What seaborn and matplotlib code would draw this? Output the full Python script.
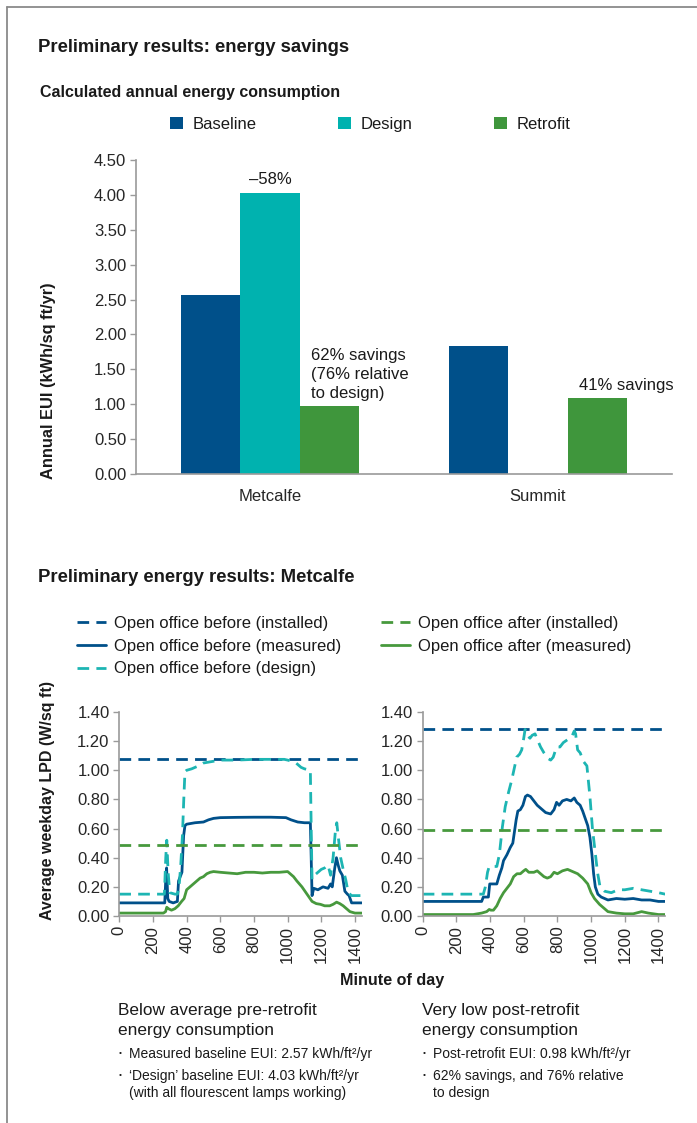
import numpy as np
import pandas as pd
import seaborn as sns
import matplotlib.pyplot as plt
from matplotlib.lines import Line2D
from matplotlib.patches import Patch
from matplotlib.ticker import FormatStrFormatter

# ---- bar chart data (annual EUI, kWh/sq ft/yr)
sites = ['Metcalfe', 'Summit']
scenarios = ['Baseline', 'Design', 'Retrofit']
baseline_eui = [2.57, 1.84]
design_eui = [4.03, np.nan]
retrofit_eui = [0.98, 1.09]
bar_colors = ['#00508A', '#00B2AF', '#3F963C']

# ---- line chart data (average weekday LPD, W/sq ft, vs minute of day)
BI = 'Open office before (installed)'
BM = 'Open office before (measured)'
BD = 'Open office before (design)'
AI = 'Open office after (installed)'
AM = 'Open office after (measured)'
series_order = [BI, BM, BD, AI, AM]
series_colors = {BI: '#00508A', BM: '#00508A', BD: '#1DB5B3', AI: '#47993D', AM: '#47993D'}
series_dashes = {BI: (4.2, 2.6), BM: '', BD: (4.2, 2.6), AI: (4.2, 2.6), AM: ''}

installed_min = [0, 1440]

# left panel
left_before_installed = [1.075, 1.075]
left_after_installed = [0.49, 0.49]
left_bm_min = [0, 270, 276, 281, 288, 296, 320, 345, 352, 362, 372, 382, 390, 400, 450, 500, 530, 560,
               600, 700, 800, 900, 990, 1020, 1060, 1100, 1135, 1140, 1145, 1155, 1180, 1210, 1240,
               1255, 1265, 1280, 1290, 1300, 1310, 1325, 1340, 1355, 1365, 1380, 1440]
left_bm_val = [0.09, 0.09, 0.25, 0.33, 0.12, 0.10, 0.09, 0.10, 0.24, 0.27, 0.30, 0.55, 0.62, 0.63, 0.64,
               0.645, 0.66, 0.67, 0.675, 0.677, 0.678, 0.678, 0.675, 0.66, 0.645, 0.64, 0.64, 0.40, 0.14,
               0.19, 0.18, 0.20, 0.19, 0.22, 0.20, 0.33, 0.40, 0.35, 0.31, 0.28, 0.17, 0.15, 0.14, 0.09, 0.09]
left_bd_min = [0, 268, 276, 282, 290, 300, 330, 345, 355, 365, 375, 383, 390, 400, 430, 450, 470, 500,
               550, 600, 700, 800, 900, 980, 1000, 1030, 1050, 1080, 1100, 1135, 1140, 1145, 1160, 1180,
               1200, 1220, 1240, 1255, 1270, 1285, 1292, 1300, 1315, 1330, 1345, 1360, 1380, 1440]
left_bd_val = [0.15, 0.15, 0.40, 0.52, 0.30, 0.16, 0.15, 0.15, 0.20, 0.35, 0.55, 0.80, 0.99, 1.00, 1.01,
               1.02, 1.03, 1.05, 1.06, 1.07, 1.07, 1.075, 1.075, 1.075, 1.07, 1.06, 1.05, 1.02, 1.01, 1.00,
               0.60, 0.25, 0.28, 0.30, 0.32, 0.33, 0.35, 0.28, 0.40, 0.60, 0.64, 0.55, 0.40, 0.32, 0.25,
               0.16, 0.14, 0.14]
left_am_min = [0, 262, 275, 282, 292, 310, 330, 350, 370, 385, 400, 420, 440, 460, 480, 500, 520, 540,
               560, 600, 650, 700, 750, 800, 850, 900, 950, 1000, 1015, 1035, 1055, 1085, 1115, 1145,
               1170, 1195, 1220, 1250, 1270, 1291, 1310, 1330, 1350, 1370, 1400, 1440]
left_am_val = [0.02, 0.02, 0.03, 0.06, 0.05, 0.04, 0.05, 0.07, 0.10, 0.12, 0.18, 0.20, 0.22, 0.24, 0.26,
               0.27, 0.29, 0.30, 0.305, 0.30, 0.295, 0.29, 0.30, 0.30, 0.295, 0.30, 0.30, 0.305, 0.29,
               0.27, 0.24, 0.20, 0.15, 0.10, 0.085, 0.08, 0.07, 0.07, 0.08, 0.095, 0.085, 0.07, 0.05,
               0.03, 0.02, 0.02]

# right panel
right_before_installed = [1.28, 1.28]
right_after_installed = [0.59, 0.59]
right_bm_min = [0, 350, 360, 390, 398, 440, 455, 470, 480, 500, 520, 535, 545, 555, 565, 580, 595, 610,
                622, 640, 660, 680, 700, 730, 760, 780, 795, 810, 830, 855, 880, 900, 915, 935, 950,
                965, 980, 993, 1005, 1015, 1025, 1040, 1060, 1100, 1150, 1200, 1250, 1300, 1350, 1400, 1440]
right_bm_val = [0.10, 0.10, 0.13, 0.13, 0.22, 0.22, 0.28, 0.33, 0.38, 0.42, 0.47, 0.50, 0.58, 0.66, 0.72,
                0.73, 0.76, 0.82, 0.83, 0.82, 0.79, 0.76, 0.74, 0.71, 0.70, 0.73, 0.78, 0.76, 0.79, 0.80,
                0.79, 0.81, 0.78, 0.76, 0.72, 0.67, 0.62, 0.54, 0.42, 0.29, 0.20, 0.15, 0.13, 0.11, 0.12,
                0.115, 0.12, 0.11, 0.11, 0.10, 0.10]
right_bd_min = [0, 360, 372, 385, 395, 440, 455, 473, 490, 510, 528, 545, 558, 575, 588, 600, 608, 620,
                637, 650, 667, 685, 700, 720, 745, 760, 775, 795, 815, 835, 860, 885, 900, 908, 920, 935,
                955, 975, 993, 1008, 1023, 1038, 1053, 1080, 1120, 1160, 1200, 1250, 1300, 1350, 1400, 1440]
right_bd_val = [0.15, 0.15, 0.20, 0.30, 0.34, 0.34, 0.42, 0.61, 0.75, 0.85, 0.93, 1.02, 1.09, 1.11, 1.14,
                1.22, 1.28, 1.24, 1.22, 1.24, 1.25, 1.20, 1.16, 1.12, 1.08, 1.07, 1.09, 1.16, 1.16, 1.19,
                1.21, 1.23, 1.27, 1.25, 1.14, 1.12, 1.06, 1.03, 0.82, 0.60, 0.45, 0.30, 0.20, 0.17, 0.16,
                0.18, 0.18, 0.19, 0.18, 0.17, 0.16, 0.15]
right_am_min = [0, 300, 350, 380, 395, 405, 420, 440, 460, 480, 500, 520, 540, 560, 580, 600, 612, 630,
                660, 680, 700, 720, 740, 760, 780, 800, 830, 860, 880, 900, 920, 950, 980, 1000, 1020,
                1050, 1080, 1100, 1150, 1200, 1250, 1300, 1340, 1400, 1440]
right_am_val = [0.01, 0.01, 0.02, 0.03, 0.045, 0.04, 0.04, 0.07, 0.12, 0.16, 0.19, 0.22, 0.27, 0.29, 0.29,
                0.31, 0.32, 0.30, 0.30, 0.31, 0.29, 0.27, 0.26, 0.27, 0.30, 0.29, 0.31, 0.32, 0.31, 0.30,
                0.29, 0.26, 0.22, 0.16, 0.12, 0.08, 0.05, 0.03, 0.02, 0.015, 0.015, 0.03, 0.02, 0.01, 0.01]


def panel_frame(parts):
    rows = []
    for name, mins, vals in parts:
        for m, v in zip(mins, vals):
            rows.append({'minute': m, 'lpd': v, 'series': name})
    return pd.DataFrame(rows)


left_df = panel_frame([
    (BI, installed_min, left_before_installed),
    (BM, left_bm_min, left_bm_val),
    (BD, left_bd_min, left_bd_val),
    (AI, installed_min, left_after_installed),
    (AM, left_am_min, left_am_val),
])
right_df = panel_frame([
    (BI, installed_min, right_before_installed),
    (BM, right_bm_min, right_bm_val),
    (BD, right_bd_min, right_bd_val),
    (AI, installed_min, right_after_installed),
    (AM, right_am_min, right_am_val),
])

bar_df = pd.DataFrame({
    'site': sites * 3,
    'scenario': [s for s in scenarios for _ in sites],
    'eui': baseline_eui + design_eui + retrofit_eui,
}).dropna()

sns.set_style('white')
plt.rcParams['font.family'] = ['Liberation Sans', 'DejaVu Sans']
plt.rcParams['text.color'] = '#1a1a1a'

W, H = 697, 1123
fig = plt.figure(figsize=(W / 100, H / 100), dpi=100)


def fx(x):
    return x / W


def fy(y):
    return 1 - y / H


GRAY = '#9a9a9a'

# frame lines
fig.add_artist(Line2D([fx(7), 1], [fy(7), fy(7)], transform=fig.transFigure, color='#8a8a8a', lw=1.3))
fig.add_artist(Line2D([fx(7), fx(7)], [fy(7), 0], transform=fig.transFigure, color='#8a8a8a', lw=1.3))

# titles
fig.text(fx(38), fy(47), 'Preliminary results: energy savings', fontsize=13.3, fontweight='bold', va='center')
fig.text(fx(40), fy(93), 'Calculated annual energy consumption', fontsize=11.5, fontweight='bold', va='center')
fig.text(fx(38), fy(577), 'Preliminary energy results: Metcalfe', fontsize=13.3, fontweight='bold', va='center')

# ---- bar chart
ax_bar = fig.add_axes([fx(136), fy(474), fx(672) - fx(136), (474 - 160) / H])
sns.barplot(data=bar_df, x='site', y='eui', hue='scenario', order=sites, hue_order=scenarios,
            palette=bar_colors, width=0.665, saturation=1, errorbar=None, linewidth=0,
            legend=False, ax=ax_bar)
ax_bar.set_xlim(-0.5, 1.5)
ax_bar.set_ylim(0, 4.5)
ax_bar.set_yticks(np.arange(0, 4.51, 0.5))
ax_bar.yaxis.set_major_formatter(FormatStrFormatter('%.2f'))
ax_bar.set_xlabel('')
ax_bar.set_ylabel('')
ax_bar.set_xticks([-0.5, 0.5, 1.5], minor=True)
ax_bar.tick_params(axis='x', which='major', length=0, labelsize=12, pad=11)
ax_bar.tick_params(axis='x', which='minor', length=5, width=1, color=GRAY, direction='out')
ax_bar.tick_params(axis='y', length=4, width=1, color=GRAY, labelsize=12, pad=3, left=True)
for side in ['top', 'right']:
    ax_bar.spines[side].set_visible(False)
for side in ['left', 'bottom']:
    ax_bar.spines[side].set_color(GRAY)
    ax_bar.spines[side].set_linewidth(1.2)

ax_bar.text(0, design_eui[0] + 0.09, '\u201358%', ha='center', va='bottom', fontsize=12)
ax_bar.text(0.153, 1.80, '62% savings\n(76% relative\nto design)', ha='left', va='top',
            fontsize=12, linespacing=1.33)
ax_bar.text(1.153, retrofit_eui[1] + 0.07, '41% savings', ha='left', va='bottom', fontsize=12)

fig.text(fx(49), fy(381), 'Annual EUI (kWh/sq ft/yr)', rotation=90, fontsize=11.8,
         fontweight='bold', ha='center', va='center')

bar_handles = [Patch(facecolor=c, edgecolor='none') for c in bar_colors]
fig.legend(bar_handles, scenarios, loc='upper left', bbox_to_anchor=(fx(170), fy(117)), ncol=3,
           frameon=False, fontsize=12, handlelength=0.75, handleheight=0.75, handletextpad=0.6,
           columnspacing=4.9, borderpad=0, borderaxespad=0)

# ---- line charts
ax_l = fig.add_axes([fx(119.3), fy(916), (361.7 - 119.3) / W, 204 / H])
ax_r = fig.add_axes([fx(422.7), fy(916), (665.2 - 422.7) / W, 204 / H])
for ax, df in [(ax_l, left_df), (ax_r, right_df)]:
    sns.lineplot(data=df, x='minute', y='lpd', hue='series', style='series', hue_order=series_order,
                 style_order=series_order, palette=series_colors, dashes=series_dashes,
                 estimator=None, sort=False, linewidth=2.0, legend=False, ax=ax)
    ax.set_xlim(0, 1440)
    ax.set_ylim(0, 1.4)
    ax.set_xticks(np.arange(0, 1401, 200))
    ax.set_yticks(np.arange(0, 1.41, 0.2))
    ax.yaxis.set_major_formatter(FormatStrFormatter('%.2f'))
    ax.set_xlabel('')
    ax.set_ylabel('')
    ax.tick_params(axis='x', length=4, width=1, color=GRAY, labelsize=12, labelrotation=90,
                   pad=3, bottom=True)
    ax.tick_params(axis='y', length=4, width=1, color=GRAY, labelsize=12, pad=3, left=True)
    for side in ['top', 'right']:
        ax.spines[side].set_visible(False)
    for side in ['left', 'bottom']:
        ax.spines[side].set_color(GRAY)
        ax.spines[side].set_linewidth(1.2)

fig.text(fx(48), fy(801), 'Average weekday LPD (W/sq ft)', rotation=90, fontsize=11.5,
         fontweight='bold', ha='center', va='center')
fig.text(fx(392), fy(981), 'Minute of day', fontsize=11.6, fontweight='bold', ha='center', va='center')

line_handles = [Line2D([0], [0], color=series_colors[s], lw=2.0,
                       linestyle='-' if series_dashes[s] == '' else (0, series_dashes[s]))
                for s in series_order]
fig.legend(line_handles, series_order, loc='upper left', bbox_to_anchor=(fx(77), fy(616)), ncol=2,
           frameon=False, fontsize=12, handlelength=1.75, handletextpad=0.5, columnspacing=2.35,
           labelspacing=0.46, borderpad=0, borderaxespad=0)

# ---- notes under the charts
notes = [
    (118, ['Below average pre-retrofit', 'energy consumption'],
     [['Measured baseline EUI: 2.57 kWh/ft\u00b2/yr'],
      ['\u2018Design\u2019 baseline EUI: 4.03 kWh/ft\u00b2/yr', '(with all flourescent lamps working)']]),
    (422, ['Very low post-retrofit', 'energy consumption'],
     [['Post-retrofit EUI: 0.98 kWh/ft\u00b2/yr'],
      ['62% savings, and 76% relative', 'to design']]),
]
for x0, head, bullets in notes:
    fig.text(fx(x0), fy(1010), head[0], fontsize=12.4, va='center')
    fig.text(fx(x0), fy(1030), head[1], fontsize=12.4, va='center')
    y = 1054
    for item in bullets:
        fig.text(fx(x0 + 1), fy(y - 1), '\u2022', fontsize=6, va='center')
        for line in item:
            fig.text(fx(x0 + 11), fy(y), line, fontsize=10, va='center')
            y += 17
        y += 5

fig.savefig('out.png', dpi=100)
